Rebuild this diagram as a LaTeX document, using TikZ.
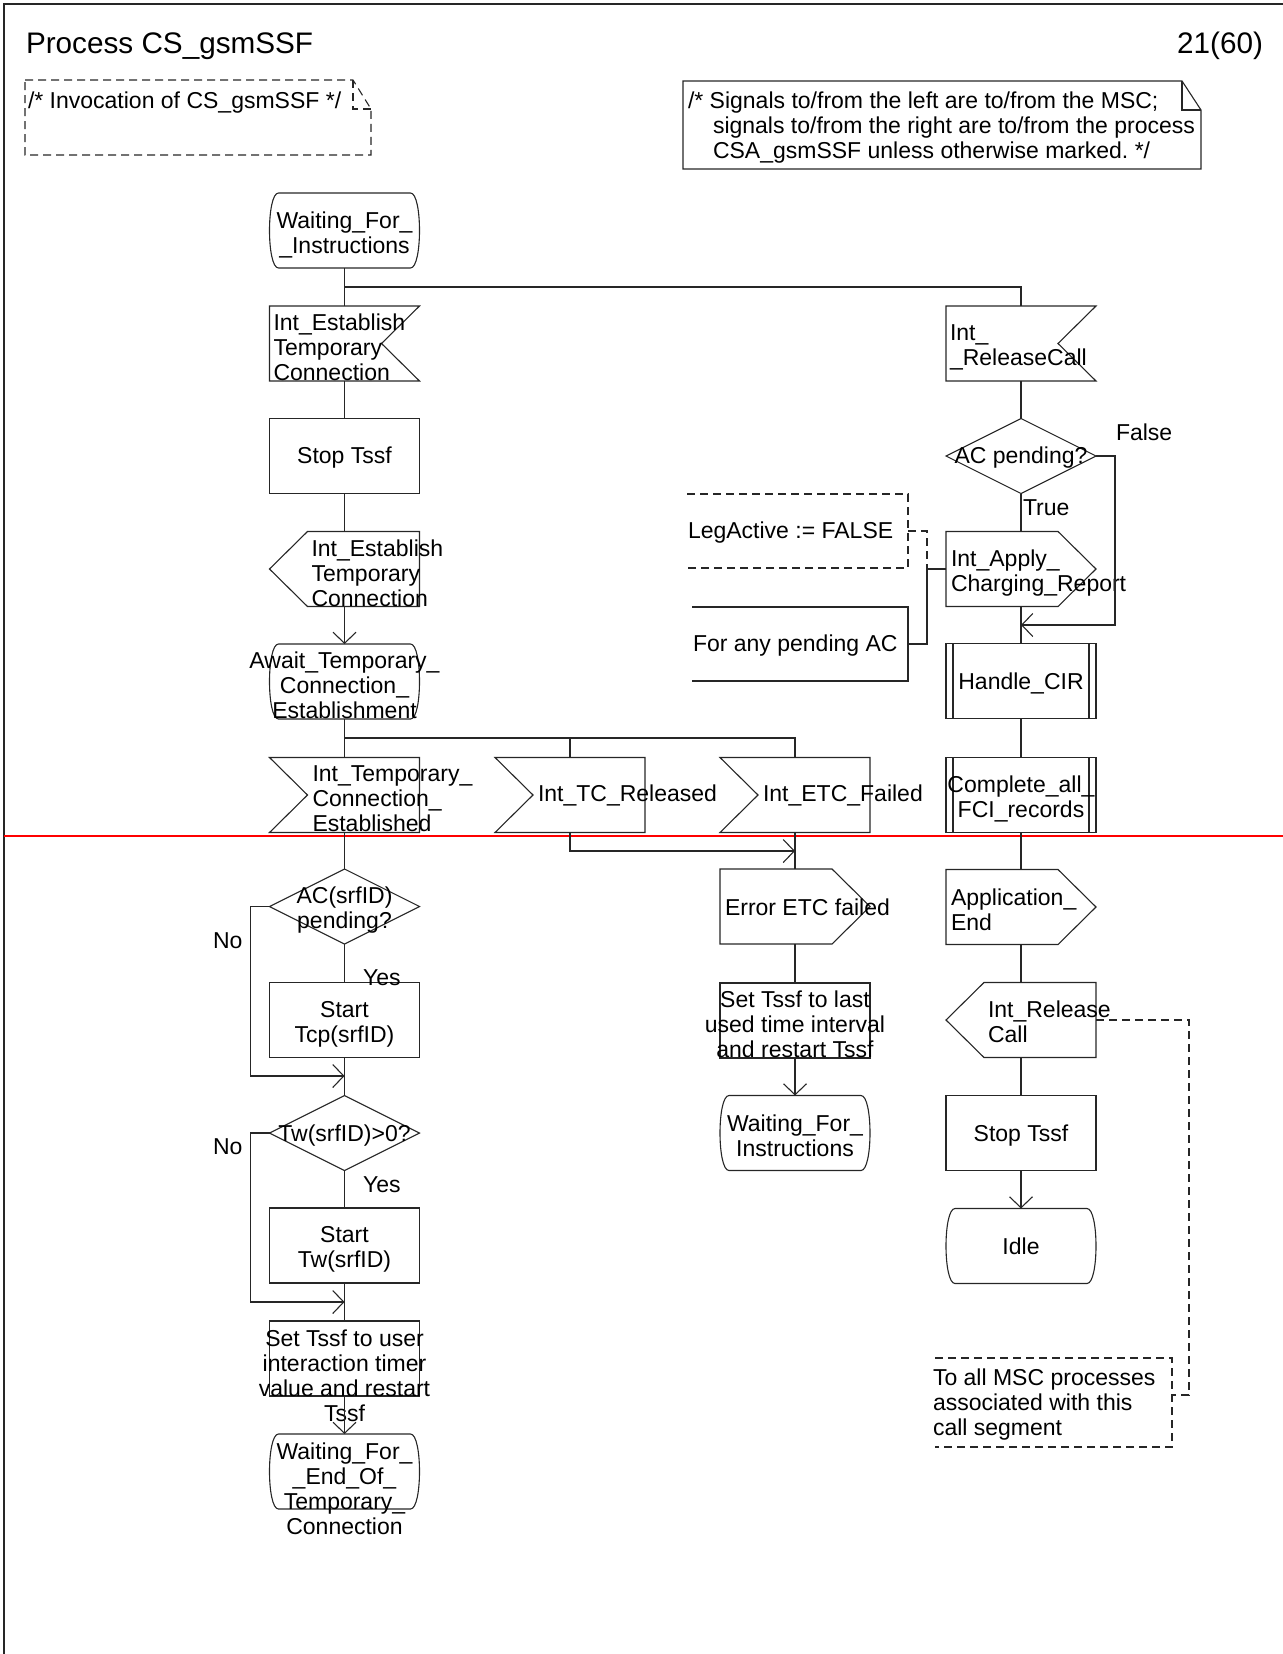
\documentclass[tikz,border=0pt]{standalone}
\usepackage{fontspec}
\setmainfont{Liberation Sans}
\usetikzlibrary{calc,arrows.meta}

\tikzset{
  ln/.style={line width=0.55pt, draw=black!85},
  dsh/.style={ln, dash pattern=on 4pt off 2.5pt},
  arr/.style={ln, -{Straight Barb[length=5.5pt,width=11.5pt]}},
  elem/.style={shape=rectangle, minimum width=75pt, minimum height=37.5pt, inner sep=0pt, outer sep=0pt},
  txt/.style={inner sep=0pt, outer sep=0pt, font=\fontsize{11.5pt}{12.5pt}\selectfont},
  intxt/.style={txt, yshift=-2pt},
  ttl/.style={inner sep=0pt, outer sep=0pt, font=\fontsize{14.85pt}{17pt}\selectfont},
}

% SDL symbols: #1 text options, #2 name, #3 centre, #4 text
\newcommand\sdlState[4][]{%
  \node[elem] (#2) at (#3) {};
  \draw[ln] ($(#2.north west)+(9,0)$) -- ($(#2.north east)+(-9,0)$)
     .. controls +(12,0) and +(12,0) .. ($(#2.south east)+(-9,0)$)
     -- ($(#2.south west)+(9,0)$)
     .. controls +(-12,0) and +(-12,0) .. ($(#2.north west)+(9,0)$) -- cycle;
  \node[intxt,align=center,#1] (#2-txt) at (#2.center) {#4};
}
\newcommand\sdlInR[4][]{%
  \node[elem] (#2) at (#3) {};
  \draw[ln] (#2.north west) -- (#2.north east) -- ($(#2.east)+(-38,0)$)
     -- (#2.south east) -- (#2.south west) -- cycle;
  \node[intxt,align=left,anchor=west,#1] (#2-txt) at ($(#2.west)+(4,0)$) {#4};
}
\newcommand\sdlInL[4][]{%
  \node[elem] (#2) at (#3) {};
  \draw[ln] (#2.north west) -- (#2.north east) -- (#2.south east)
     -- (#2.south west) -- ($(#2.west)+(38,0)$) -- cycle;
  \node[intxt,align=left,anchor=west,#1] (#2-txt) at ($(#2.west)+(43,0)$) {#4};
}
\newcommand\sdlOutR[4][]{%
  \node[elem] (#2) at (#3) {};
  \draw[ln] (#2.north west) -- ($(#2.north east)+(-38,0)$) -- (#2.east)
     -- ($(#2.south east)+(-38,0)$) -- (#2.south west) -- cycle;
  \node[intxt,align=left,anchor=west,#1] (#2-txt) at ($(#2.west)+(5,0)$) {#4};
}
\newcommand\sdlOutL[4][]{%
  \node[elem] (#2) at (#3) {};
  \draw[ln] ($(#2.north west)+(38,0)$) -- (#2.north east) -- (#2.south east)
     -- ($(#2.south west)+(38,0)$) -- (#2.west) -- cycle;
  \node[intxt,align=left,anchor=west,#1] (#2-txt) at ($(#2.west)+(42,0)$) {#4};
}
\newcommand\sdlTask[4][]{%
  \node[elem,ln] (#2) at (#3) {};
  \node[intxt,align=center,#1] (#2-txt) at (#2.center) {#4};
}
\newcommand\sdlDecision[4][]{%
  \node[elem] (#2) at (#3) {};
  \draw[ln] (#2.north) -- (#2.east) -- (#2.south) -- (#2.west) -- cycle;
  \node[intxt,align=center,#1] (#2-txt) at (#2.center) {#4};
}
\newcommand\sdlProc[4][]{%
  \node[elem,ln] (#2) at (#3) {};
  \draw[ln] ($(#2.north west)+(7,0)$) -- ($(#2.south west)+(7,0)$)
            ($(#2.north east)+(-7,0)$) -- ($(#2.south east)+(-7,0)$);
  \node[intxt,align=center,#1] (#2-txt) at (#2.center) {#4};
}

\begin{document}
\frenchspacing
\begin{tikzpicture}[x=0.5pt,y=-0.5pt]
\useasboundingbox (0,0) rectangle (1283,1654);

% page frame and page-break marker
\draw[ln] (4,1654) -- (4,4) -- (1283,4);
\draw[red, line width=0.75pt] (4,836) -- (1283,836);

% heading
\node[ttl,anchor=base west] (title) at (26,53) {Process CS\_gsmSSF};
\node[ttl,anchor=base east] (page) at (1263,53) {21(60)};

% comment: invocation
\node[minimum width=173pt, minimum height=37.5pt, inner sep=0pt, outer sep=0pt] (cm1) at (198,117.5) {};
\draw[dsh] (cm1.north west) -- ($(cm1.north east)+(-18,0)$) -- ($(cm1.north east)+(0,29)$)
   -- (cm1.south east) -- (cm1.south west) -- cycle;
\draw[dsh] ($(cm1.north east)+(-18,0)$) -- ++(0,29) -- ++(18,0);
\node[txt,anchor=base west] (cm1-txt) at (28,108) {/* Invocation of CS\_gsmSSF */};

% text symbol: signal directions
\node[minimum width=259pt, minimum height=44pt, inner sep=0pt, outer sep=0pt] (cm2) at (942,125) {};
\draw[ln] (cm2.north west) -- ($(cm2.north east)+(-19,0)$) -- ($(cm2.north east)+(0,29)$)
   -- (cm2.south east) -- (cm2.south west) -- cycle;
\draw[ln] ($(cm2.north east)+(-19,0)$) -- ++(0,29) -- ++(19,0);
\node[txt,align=left,anchor=north west] (cm2-txt) at (688,92)
  {/* Signals to/from the left are to/from the MSC;\\
   \hspace*{12.5pt}signals to/from the right are to/from the process\\
   \hspace*{12.5pt}CSA\_gsmSSF unless otherwise marked. */};

% left column
\sdlState{s1}{344.5,230.5}{Waiting\_For\_\\\_Instructions}
\sdlInR{i1}{344.5,343.5}{Int\_Establish\\Temporary\\Connection}
\sdlTask[yshift=1pt]{t1}{344.5,456}{Stop Tssf}
\sdlOutL{o1}{344.5,569}{Int\_Establish\\Temporary\\Connection}
\sdlState{s2}{344.5,681.5}{Await\_Temporary\_\\Connection\_\\Establishment}
\sdlInL{i2}{344.5,795}{Int\_Temporary\_\\Connection\_\\Established}
\sdlDecision{d1}{344.5,906.5}{AC(srfID)\\pending?}
\sdlTask{t2}{344.5,1020}{Start\\Tcp(srfID)}
\sdlDecision[yshift=0.5pt]{d2}{344.5,1133}{Tw(srfID)>0?}
\sdlTask{t3}{344.5,1245.5}{Start\\Tw(srfID)}
\sdlTask[yshift=-6.5pt]{t4}{344.5,1358.5}{Set Tssf to user\\interaction timer\\value and restart\\Tssf}
\sdlState[yshift=-6.5pt]{s3}{344.5,1471.5}{Waiting\_For\_\\\_End\_Of\_\\Temporary\_\\Connection}

% middle columns
\sdlInL[yshift=2pt]{i3}{570,795}{Int\_TC\_Released}
\sdlInL[yshift=2pt]{i4}{795,795}{Int\_ETC\_Failed}
\sdlOutR[yshift=1.5pt]{o2}{795,906.5}{Error ETC failed}
\sdlTask{t5}{795,1020.5}{Set Tssf to last\\used time interval\\and restart Tssf}
\sdlState[yshift=0.8pt]{s4}{795,1133}{Waiting\_For\_\\Instructions}

% right column
\sdlInR{i5}{1021,343.5}{Int\_\\\_ReleaseCall}
\sdlDecision[yshift=1pt]{d3}{1021,456}{AC pending?}
\sdlOutR{o3}{1021,569}{Int\_Apply\_\\Charging\_Report}
\sdlProc[yshift=1pt]{p1}{1021,681}{Handle\_CIR}
\sdlProc{p2}{1021,795}{Complete\_all\_\\FCI\_records}
\sdlOutR[yshift=0.5pt]{o4}{1021,907}{Application\_\\End}
\sdlOutL[yshift=1pt]{o5}{1021,1020}{Int\_Release\\Call}
\sdlTask[yshift=0.5pt]{t6}{1021,1133}{Stop Tssf}
\sdlState[yshift=2pt]{s5}{1021,1246}{Idle}

% comments attached to Int_Apply_Charging_Report
\node[minimum width=110.5pt, minimum height=37pt, inner sep=0pt, outer sep=0pt] (cm3) at (797.5,531) {};
\draw[dsh] (cm3.north west) -- (cm3.north east) -- (cm3.south east) -- (cm3.south west);
\node[txt,anchor=west,yshift=-1pt] (cm3-txt) at ($(cm3.west)+(1,0)$) {LegActive := FALSE};
\node[minimum width=108pt, minimum height=37pt, inner sep=0pt, outer sep=0pt] (cm4) at (800,644) {};
\draw[ln] (cm4.north west) -- (cm4.north east) -- (cm4.south east) -- (cm4.south west);
\node[txt,anchor=west,yshift=-1pt] (cm4-txt) at ($(cm4.west)+(1,0)$) {For any pending AC};
\coordinate (jc) at (927,569);
\draw[ln] (o3.west) -- (jc) |- (cm4.east);
\draw[dsh] (cm3.east) -| (jc);

% comment attached to Int_Release Call
\node[minimum width=118.5pt, minimum height=44.5pt, inner sep=0pt, outer sep=0pt] (cm5) at (1053.5,1402.5) {};
\draw[dsh] (cm5.north west) -- (cm5.north east) -- (cm5.south east) -- (cm5.south west);
\node[txt,align=left,anchor=west,yshift=-1pt] (cm5-txt) at (933,1403) {To all MSC processes\\associated with this\\call segment};
\draw[dsh] (o5.east) -- ++(93,0) |- ([yshift=3.75pt]cm5.east);

% flow lines, left column
\draw[ln] (s1.south) -- (i1.north);
\coordinate (br1) at (344.5,287);
\draw[ln] (br1) -| (i5.north);
\draw[ln] (i1.south) -- (t1.north);
\draw[ln] (t1.south) -- (o1.north);
\draw[arr] (o1.south) -- (s2.north);
\draw[ln] (s2.south) -- (i2.north);
\coordinate (br2) at (344.5,738);
\draw[ln] (br2) -| (i4.north);
\draw[ln] (i3.north |- br2) -- (i3.north);
\draw[ln] (i2.south) -- (d1.north);
\draw[ln] (d1.south) -- (t2.north);
\coordinate (j1) at (344.5,1076);
\draw[ln] (t2.south) -- (d2.north);
\draw[arr] (d1.west) -- ++(-19,0) |- (j1);
\draw[ln] (d2.south) -- (t3.north);
\coordinate (j2) at (344.5,1302);
\draw[ln] (t3.south) -- (t4.north);
\draw[arr] (d2.west) -- ++(-19,0) |- (j2);
\draw[arr] (t4.south) -- (s3.north);

% flow lines, middle
\coordinate (j3) at (795,851);
\draw[arr] (i3.south) |- (j3);
\draw[ln] (i4.south) -- (o2.north);
\draw[ln] (o2.south) -- (t5.north);
\draw[arr] (t5.south) -- (s4.north);

% flow lines, right column
\draw[ln] (i5.south) -- (d3.north);
\draw[ln] (d3.south) -- (o3.north);
\coordinate (j4) at (1021,625);
\draw[arr] (d3.east) -- ++(19,0) |- (j4);
\draw[ln] (o3.south) -- (p1.north);
\draw[ln] (p1.south) -- (p2.north);
\draw[ln] (p2.south) -- (o4.north);
\draw[ln] (o4.south) -- (o5.north);
\draw[ln] (o5.south) -- (t6.north);
\draw[arr] (t6.south) -- (s5.north);

% branch labels
\node[txt,anchor=base west] (lfalse) at (1116,440) {False};
\node[txt,anchor=base west] (ltrue) at (1023,515) {True};
\node[txt,anchor=base west] (lno1) at (213,948) {No};
\node[txt,anchor=base west] (lyes1) at (363,985) {Yes};
\node[txt,anchor=base west] (lno2) at (213,1154) {No};
\node[txt,anchor=base west] (lyes2) at (363,1192) {Yes};
\end{tikzpicture}
\end{document}
